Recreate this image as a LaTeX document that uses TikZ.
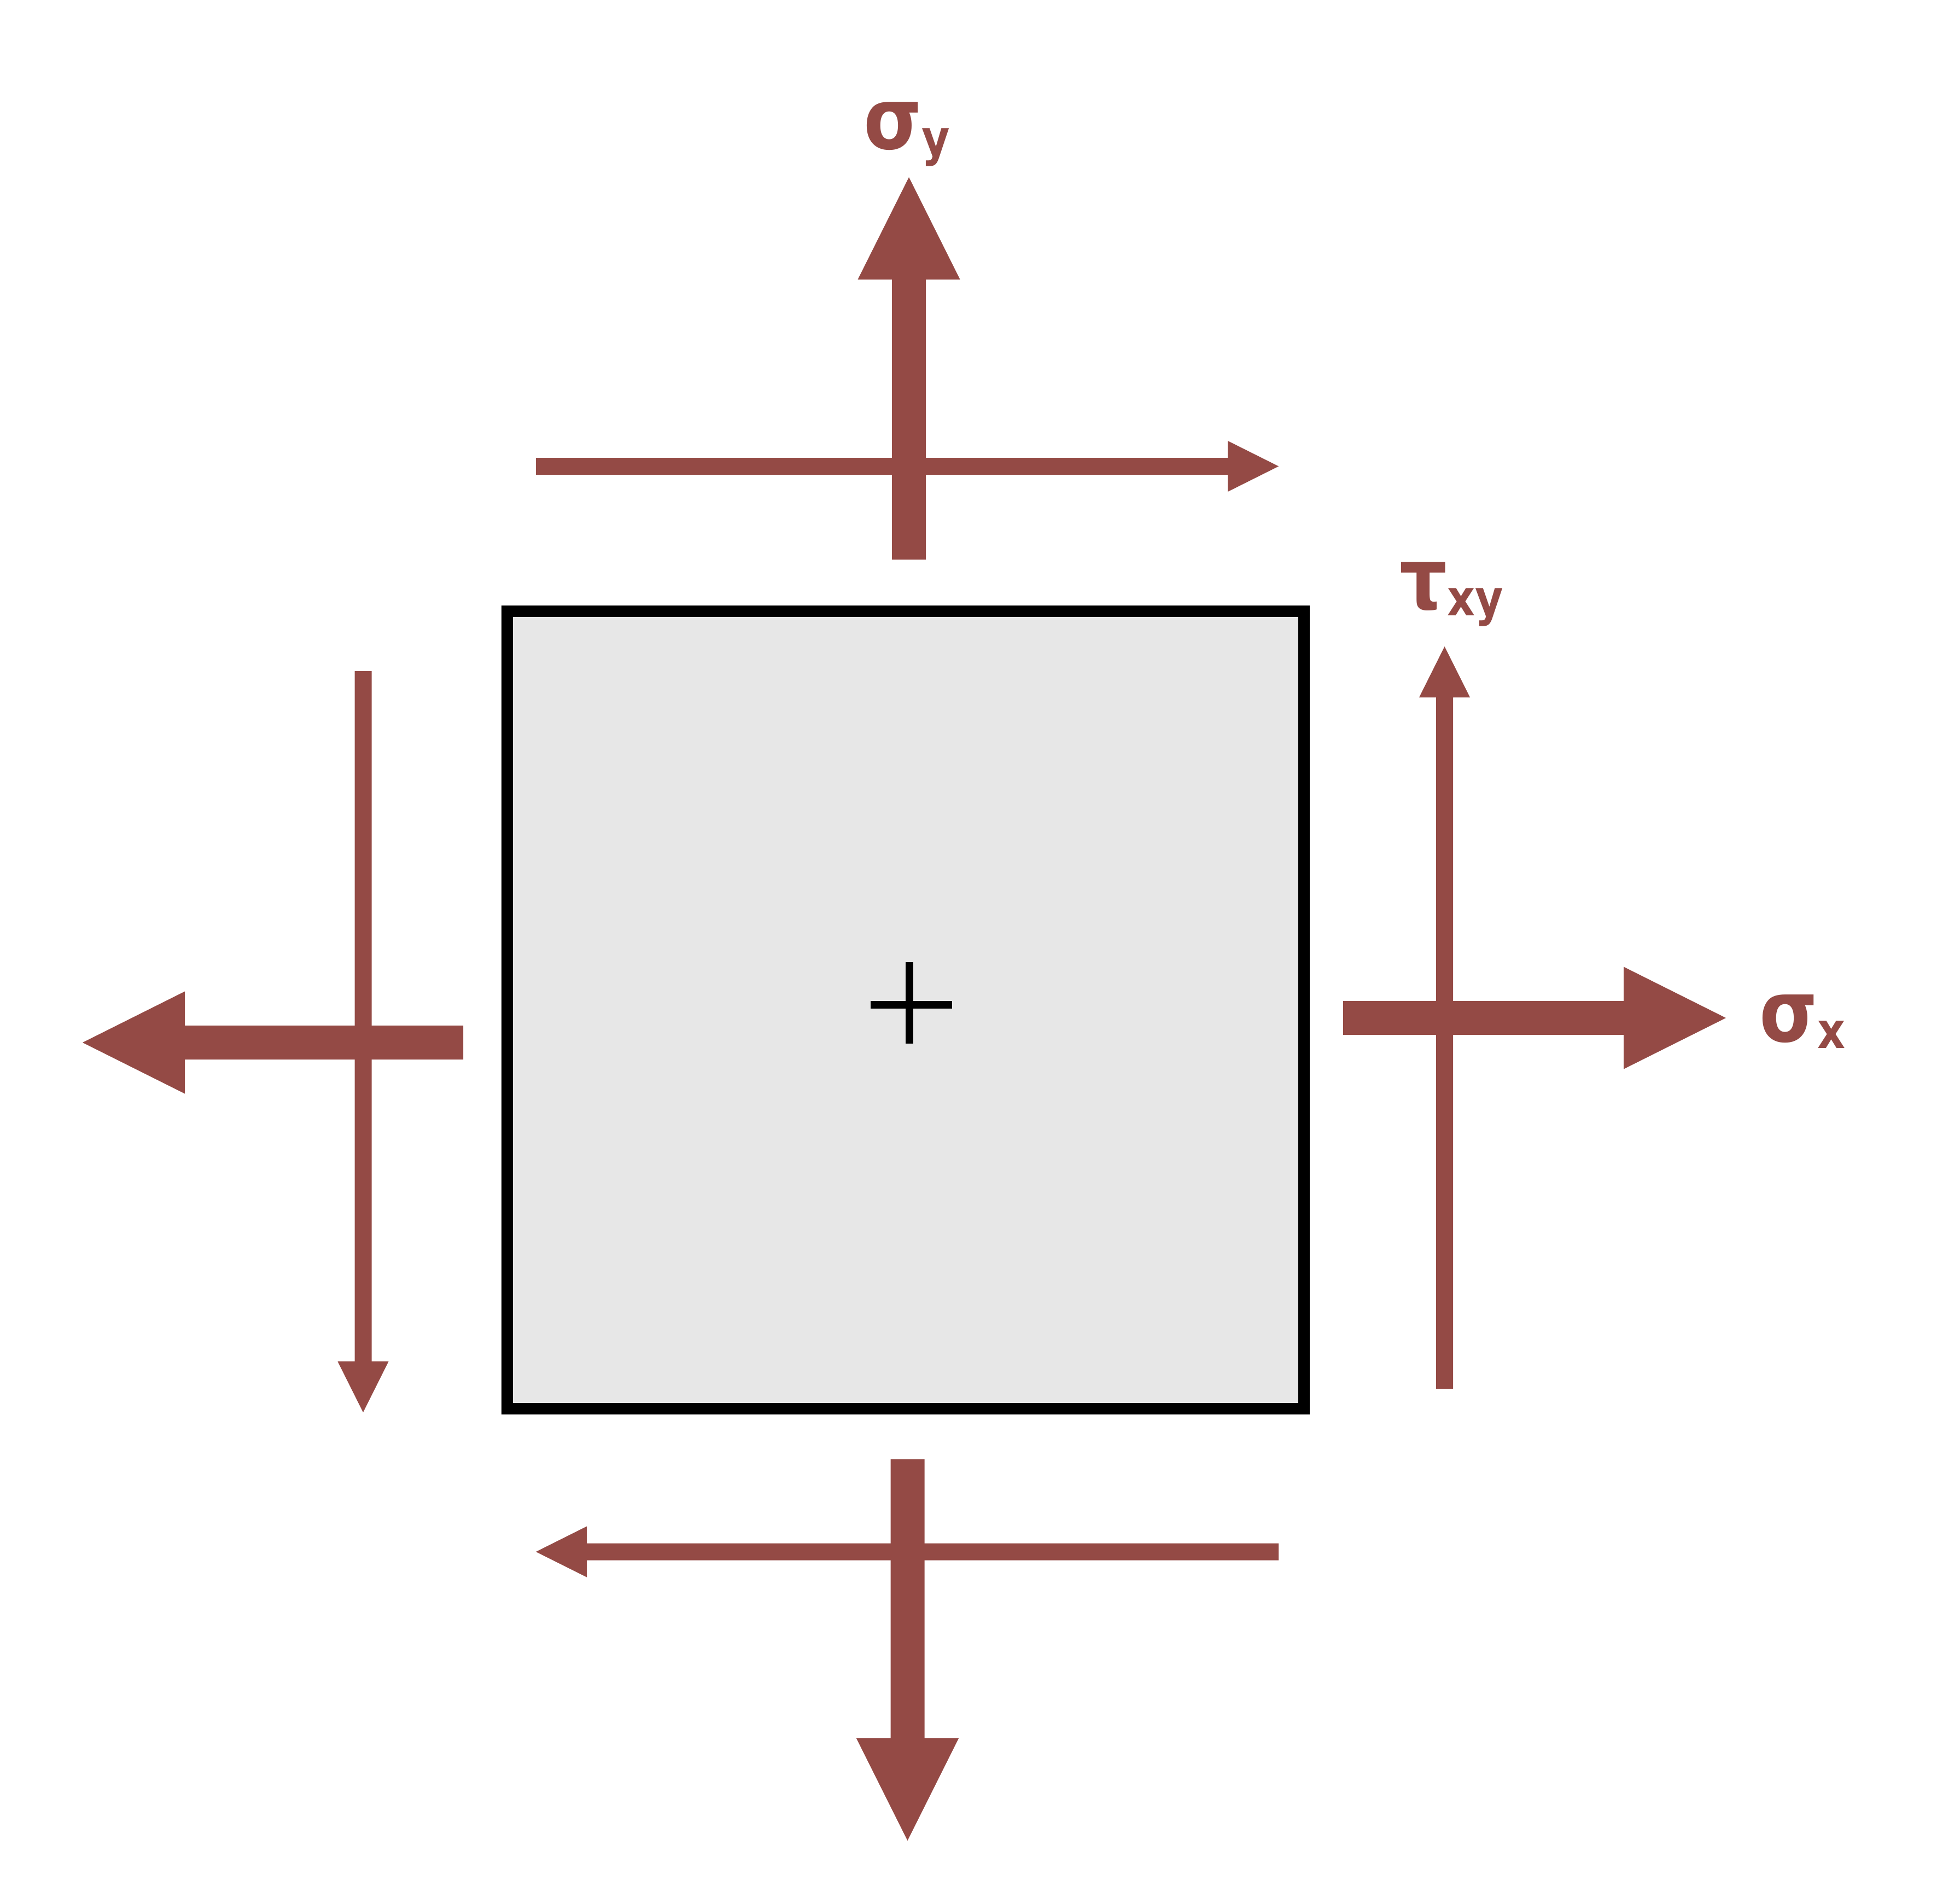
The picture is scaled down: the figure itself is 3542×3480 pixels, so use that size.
\documentclass[tikz,border=0pt]{standalone}
\usepackage{fontspec}
\setmainfont{DejaVu Sans}
\newfontfamily\lblfamily[FakeStretch=0.87]{DejaVu Sans}
\definecolor{stresscol}{RGB}{148,74,69}
\definecolor{boxgray}{RGB}{231,231,231}
\newcommand\stressarrow[6]{%
  \begin{scope}[shift={(#1,#2)},rotate=#3]
    \fill[stresscol] (0,-#5) -- ({#4-2*#6},-#5) -- ({#4-2*#6},-#6) -- (#4,0)
      -- ({#4-2*#6},#6) -- ({#4-2*#6},#5) -- (0,#5) -- cycle;
  \end{scope}}
\newcommand\lblsub[1]{\raisebox{-2.5pt}{\fontsize{18.2}{18.2}\selectfont #1}}
\tikzset{
  lbl/.style={text=stresscol, font=\lblfamily\fontsize{31.4}{31.4}\selectfont\bfseries, inner sep=0pt, anchor=base west},
  element/.style={draw=black, line width=4.2pt, fill=boxgray},
  centremark/.style={draw=black, line width=2.8pt}
}
\begin{document}
\begin{tikzpicture}[x=0.2pt,y=-0.2pt]
\useasboundingbox (0,0) rectangle (3542,3480);
% element
\draw[element] (927.5,1117.5) rectangle (2384.5,2575.5);
\coordinate (ch1) at (1592,1837);
\coordinate (ch2) at (1741,1837);
\coordinate (cv1) at (1663,1759);
\coordinate (cv2) at (1663,1908);
\draw[centremark] (ch1) -- (ch2);
\draw[centremark] (cv1) -- (cv2);
% normal stresses (thick)
\stressarrow{1662}{1023}{90}{699}{31}{93.5}
\stressarrow{2456}{1861}{0}{700}{31}{93.5}
\stressarrow{847}{1906}{180}{696}{31}{93.5}
\stressarrow{1659.5}{2668}{-90}{697}{31}{93.5}
% shear stresses (thin)
\stressarrow{980}{852.5}{0}{1358}{15.5}{46.5}
\stressarrow{2641.5}{2539}{90}{1357}{15.5}{46.5}
\stressarrow{664}{1227}{-90}{1355}{15.5}{46.5}
\stressarrow{2338}{2837}{180}{1358}{15.5}{46.5}
% labels
\node[lbl] (sy) at (1578,272) {σ\lblsub{y}};
\node[lbl] (txy) at (2558,1113) {τ\lblsub{xy}};
\node[lbl] (sx) at (3216,1904) {σ\lblsub{x}};
\end{tikzpicture}
\end{document}
